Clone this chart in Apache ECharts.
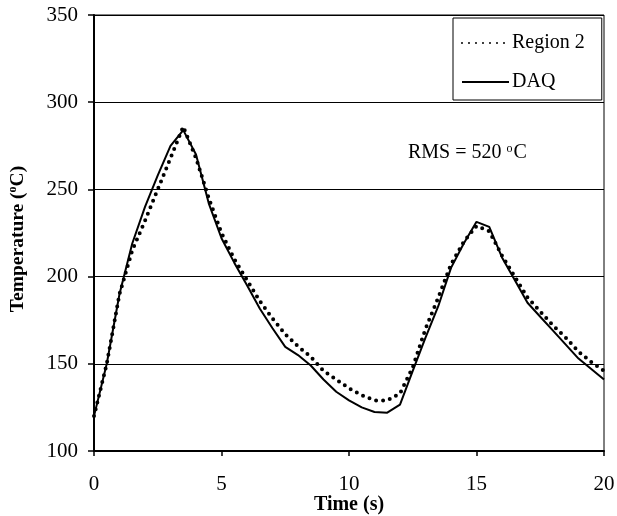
<!DOCTYPE html>
<html><head><meta charset="utf-8">
<script src="https://cdn.jsdelivr.net/npm/echarts@6/dist/echarts.min.js"></script>
<style>html,body{margin:0;padding:0;background:#fff}#c{width:617px;height:516px}</style>
</head><body><div id="c"></div>
<script>
const times = [0,0.5,1,1.5,2,2.5,3,3.5,4,4.5,5,5.5,6,6.5,7,7.5,8,8.5,9,9.5,10,10.5,11,11.5,12,12.5,13,13.5,14,14.5,15,15.5,16,16.5,17,17.5,18,18.5,19,19.5,20];
const region2 = [120,150,190,215,232,250,268,286,268,245,225,210,198,186,176,167,160,154,146,141,136,132,129,129,133,148,170,188,207,220,229,226,212,200,188,180,172,165,157,151,146];
const daq = [120,150,190,219,240,258,275,284,270,242,222,208,195,181.7,170.4,159.7,155,149,141,134,129,125,122.4,122,126.6,146,165,183,205,219,231.4,228.5,211,198,185,177,169,161,153,147,141];
const yTicks = [100,150,200,250,300,350];
const xTicks = [0,5,10,15,20];
const seriesNames = ['Region 2','DAQ'];

const F = '"Liberation Serif","Times New Roman",serif';
const chart = echarts.init(document.getElementById('c'));
chart.setOption({
  animation:false,
  textStyle:{fontFamily:F,color:'#000'},
  grid:{left:94,top:15,right:13,bottom:65,show:true,borderColor:'#000',borderWidth:1,containLabel:false,outerBoundsMode:'none'},
  legend:{
    orient:'vertical',left:453,top:18,
    data:seriesNames,
    backgroundColor:'#fff',borderColor:'#000',borderWidth:1,
    padding:[15,17,8,8],itemGap:19,itemWidth:47,itemHeight:14,
    itemStyle:{opacity:0},
    textStyle:{fontFamily:F,fontSize:20,color:'#000',padding:[0,0,0,-2]}
  },
  xAxis:{
    type:'value',min:xTicks[0],max:xTicks[xTicks.length-1],interval:5,
    name:'Time (s)',nameLocation:'middle',nameGap:44,nameMoveOverlap:false,
    nameTextStyle:{fontFamily:F,fontSize:20,fontWeight:'bold',color:'#000'},
    axisLine:{lineStyle:{color:'#000',width:2}},
    axisTick:{show:true,length:5,lineStyle:{color:'#000',width:1.5}},
    axisLabel:{fontFamily:F,fontSize:21,color:'#000',margin:23},
    splitLine:{show:false}
  },
  yAxis:{
    type:'value',min:yTicks[0],max:yTicks[yTicks.length-1],interval:50,
    name:'{a|Temperature (}{s|o}{a|C)}',nameLocation:'middle',nameGap:66,nameMoveOverlap:false,
    nameTextStyle:{padding:[0,12,0,0],rich:{a:{fontFamily:F,fontSize:19.5,fontWeight:'bold',color:'#000'},s:{fontFamily:F,fontSize:12,fontWeight:'bold',color:'#000',verticalAlign:'top',padding:[0,0,9,0]}}},
    axisLine:{show:true,lineStyle:{color:'#000',width:2}},
    axisTick:{show:true,length:6,lineStyle:{color:'#000',width:1.5}},
    axisLabel:{fontFamily:F,fontSize:21,color:'#000',margin:16},
    splitLine:{show:true,lineStyle:{color:'#000',width:1}}
  },
  graphic:[{
    type:'text',left:408,top:143,
    style:{
      text:'{a|RMS = 520 }{s|o}{a|C}',
      rich:{a:{fontFamily:F,fontSize:20,fill:'#000'},s:{fontFamily:F,fontSize:12,fill:'#000',verticalAlign:'top',padding:[0,1,7,0]}}
    }
  }],
  series:[
    {name:seriesNames[0],type:'line',data:times.map((t,i)=>[t,region2[i]]),showSymbol:false,symbol:'none',
     itemStyle:{color:'#000'},
     lineStyle:{color:'#000',width:4,type:[0,7],cap:'round'},z:3},
    {name:seriesNames[1],type:'line',data:times.map((t,i)=>[t,daq[i]]),showSymbol:false,symbol:'none',
     itemStyle:{color:'#000'},
     lineStyle:{color:'#000',width:2},z:2}
  ]
});
</script></body></html>
